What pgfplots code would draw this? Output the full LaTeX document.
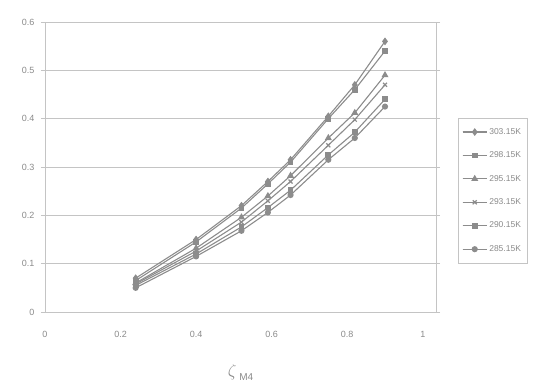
\documentclass[border=0pt]{standalone}
\usepackage{pgfplots}
\pgfplotsset{compat=1.18}
\usepackage{fontspec}
\setmainfont{Liberation Sans}
\definecolor{txt}{HTML}{8A8A8A}
\definecolor{ln}{HTML}{8C8C8C}
\definecolor{grd}{HTML}{C4C4C4}
\begin{document}
\begin{tikzpicture}[x=1pt,y=1pt]
\useasboundingbox (0,0) rectangle (547,391);
\begin{axis}[
  at={(45pt,79pt)}, anchor=south west,
  scale only axis, width=391pt, height=290pt,
  xmin=0, xmax=1.035, ymin=0, ymax=0.6,
  xtick={0,0.2,0.4,0.6,0.8,1}, ytick={0,0.1,0.2,0.3,0.4,0.5,0.6},
  xticklabels={0,0.2,0.4,0.6,0.8,1},
  yticklabels={0,0.1,0.2,0.3,0.4,0.5,0.6},
  ymajorgrids, grid style={grd, line width=0.8pt},
  axis line style={grd, line width=0.9pt},
  tick style={grd, line width=0.8pt},
  xtick style={draw=none},
  tick align=outside, major tick length=4pt,
  ticklabel style={font=\fontsize{9}{10}\selectfont, text=txt},
  xticklabel style={yshift=-12pt},
  yticklabel style={xshift=-3pt},
  xlabel={\fontsize{17}{18}\selectfont $\zeta$\,{\fontsize{10}{11}\selectfont\raisebox{-4pt}{M4}}},
  xlabel style={text=txt, yshift=-20pt},
  cycle list={{ln, line width=1.1pt}},
  legend style={at={(1.056,0.669)}, anchor=north west, draw=grd, line width=0.6pt,
    font=\fontsize{8.5}{9}\selectfont, text=txt, row sep=12pt, inner xsep=4pt, inner ysep=8pt},
  legend cell align=left,
  legend image code/.code={\draw[#1] (0pt,0pt) -- (24pt,0pt); \draw[#1, mark repeat=2, mark phase=2] plot coordinates {(0pt,0pt) (12pt,0pt) (24pt,0pt)};},
]
\addplot[ln, line width=1.1pt, mark=diamond*, mark size=3pt, mark options={fill=ln, draw=ln}] coordinates {
 (0.24,0.070) (0.40,0.150) (0.52,0.220) (0.59,0.270) (0.65,0.315) (0.75,0.405) (0.82,0.470) (0.90,0.560)};
\addlegendentry{303.15K}
\addplot[ln, line width=1.1pt, mark=square*, mark size=2.3pt, mark options={fill=ln, draw=ln}] coordinates {
 (0.24,0.065) (0.40,0.145) (0.52,0.215) (0.59,0.265) (0.65,0.310) (0.75,0.400) (0.82,0.460) (0.90,0.540)};
\addlegendentry{298.15K}
\addplot[ln, line width=1.1pt, mark=triangle*, mark size=3pt, mark options={fill=ln, draw=ln}] coordinates {
 (0.24,0.060) (0.40,0.132) (0.52,0.196) (0.59,0.240) (0.65,0.282) (0.75,0.360) (0.82,0.412) (0.90,0.490)};
\addlegendentry{295.15K}
\addplot[ln, line width=1.1pt, mark=x, mark size=2.8pt, mark options={draw=ln, line width=1.2pt}] coordinates {
 (0.24,0.058) (0.40,0.126) (0.52,0.186) (0.59,0.230) (0.65,0.270) (0.75,0.345) (0.82,0.398) (0.90,0.470)};
\addlegendentry{293.15K}
\addplot[ln, line width=1.1pt, mark=square*, mark size=2.3pt, mark options={fill=ln, draw=ln}] coordinates {
 (0.24,0.055) (0.40,0.120) (0.52,0.176) (0.59,0.216) (0.65,0.252) (0.75,0.325) (0.82,0.372) (0.90,0.440)};
\addlegendentry{290.15K}
\addplot[ln, line width=1.1pt, mark=*, mark size=2.5pt, mark options={fill=ln, draw=ln}] coordinates {
 (0.24,0.050) (0.40,0.115) (0.52,0.168) (0.59,0.206) (0.65,0.242) (0.75,0.315) (0.82,0.360) (0.90,0.425)};
\addlegendentry{285.15K}
\end{axis}
\end{tikzpicture}
\end{document}
